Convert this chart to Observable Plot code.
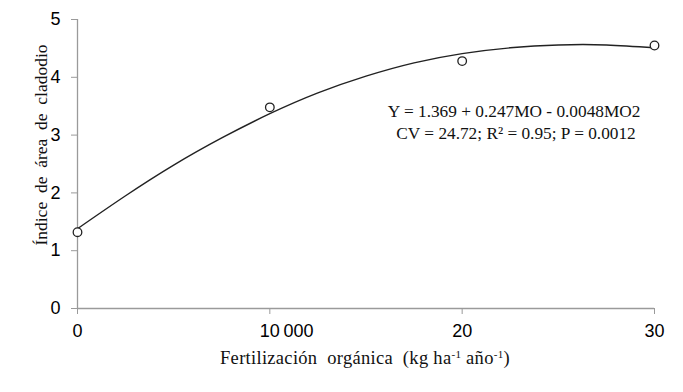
<!DOCTYPE html>
<html>
<head>
<meta charset="utf-8">
<script src="https://cdn.jsdelivr.net/npm/d3@7"></script>
<script src="https://cdn.jsdelivr.net/npm/@observablehq/plot@0.6"></script>
<style>
  html, body { margin: 0; padding: 0; background: #fff; }
  #chart svg { display: block; }
</style>
</head>
<body>
<div id="chart"></div>
<script>
// Observed points
const doseX = [0, 10, 20, 30];
const indexY = [1.32, 3.48, 4.28, 4.55];

// Fitted curve
const curveX = [0, 2.5, 5, 7.5, 10, 12.5, 15, 17.5, 20, 22.5, 25, 27.5, 30];
const curveY = [1.38, 1.95, 2.48, 2.95, 3.37, 3.73, 4.02, 4.25, 4.41, 4.51, 4.56, 4.56, 4.51];

// Ticks
const xTicks = [0, 10, 20, 30];
const xTickLabels = ["0", "10\u2009000", "20", "30"];
const yTicks = [0, 1, 2, 3, 4, 5];

// Annotation text
const eqLines = ["Y = 1.369 + 0.247MO - 0.0048MO2", "CV = 24.72; R² = 0.95; P = 0.0012"];
const eqPos = [{x: 22.7, y: 3.41}, {x: 22.8, y: 3.03}];

const obs = doseX.map((x, i) => ({x, y: indexY[i]}));
const curve = curveX.map((x, i) => ({x, y: curveY[i]}));
const eq = eqLines.map((t, i) => ({text: t, ...eqPos[i]}));

const axisColor = "#9a9a9a";
const serif = "Liberation Serif";
const sans = "Liberation Sans";

const chart = Plot.plot({
  width: 683,
  height: 392,
  marginLeft: 77,
  marginRight: 29,
  marginTop: 19,
  marginBottom: 84,
  style: {fontFamily: sans, background: "#fff", color: "#000"},
  x: {domain: [0, 30]},
  y: {domain: [0, 5]},
  marks: [
    Plot.ruleX([{x: 0, y1: 0, y2: 5}], {x: "x", y1: "y1", y2: "y2", stroke: axisColor, strokeWidth: 1.3}),
    Plot.ruleY([{y: 0, x1: 0, x2: 30}], {y: "y", x1: "x1", x2: "x2", stroke: axisColor, strokeWidth: 1.3}),
    Plot.axisY({ticks: yTicks, tickSize: 6, tickPadding: 11, fontSize: 18, stroke: axisColor, label: null,
      tickFormat: (d) => String(d)}),
    Plot.axisX({ticks: xTicks, tickSize: 6, tickPadding: 10, fontSize: 18, stroke: axisColor, label: null,
      tickFormat: (d) => { const i = xTicks.indexOf(d); return i === 1 ? "" : xTickLabels[i]; }}),
    Plot.axisX({ticks: [xTicks[1]], tickSize: 0, tickPadding: 16, fontSize: 18, label: null,
      textAnchor: "start", dx: -10, tickFormat: () => xTickLabels[1]}),
    Plot.line(curve, {x: "x", y: "y", curve: "natural", stroke: "#222", strokeWidth: 1.4}),
    Plot.dot(obs, {x: "x", y: "y", r: 4.3, stroke: "#222", strokeWidth: 1.3, fill: "#fff"}),
    Plot.text(eq, {x: "x", y: "y", text: "text", fontFamily: serif, fontSize: 17.3, fill: "#111"})
  ]
});

const svg = d3.select(chart);
// X axis title
const xt = svg.append("text")
  .attr("x", 365).attr("y", 364)
  .attr("text-anchor", "middle")
  .attr("font-family", serif)
  .attr("style", "font-family:'Liberation Serif',serif;font-size:18.5px;letter-spacing:0.3px;white-space:pre")
  .attr("fill", "#111");
xt.append("tspan").text("Fertilización  orgánica  (kg ha");
xt.append("tspan").attr("dy", -6).attr("font-size", "11px").text("-1");
xt.append("tspan").attr("dy", 6).text(" año");
xt.append("tspan").attr("dy", -6).attr("font-size", "11px").text("-1");
xt.append("tspan").attr("dy", 6).text(")");

// Y axis title
svg.append("text")
  .attr("transform", "translate(47,145) rotate(-90)")
  .attr("text-anchor", "middle")
  .attr("font-family", serif)
  .attr("style", "font-family:'Liberation Serif',serif;font-size:17.5px;white-space:pre")
  .attr("fill", "#111")
  .text("Índice  de  área  de  cladodio");

document.getElementById("chart").appendChild(chart);
</script>
</body>
</html>
